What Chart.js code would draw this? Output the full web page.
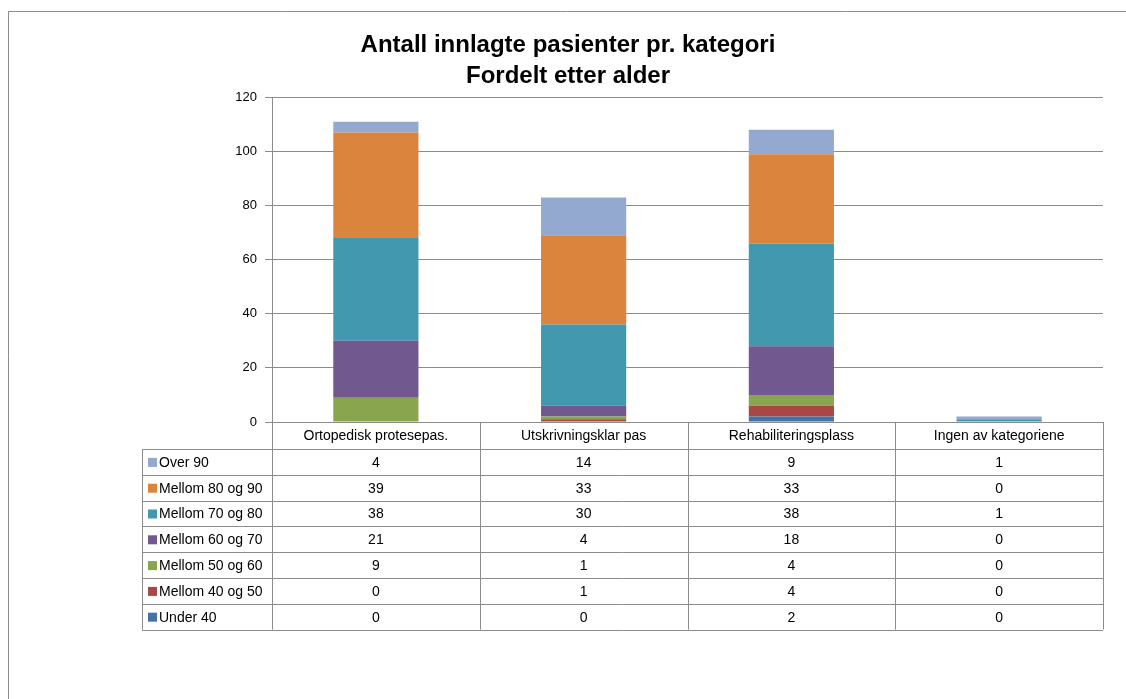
<!DOCTYPE html>
<html>
<head>
<meta charset="utf-8">
<script src="https://cdn.jsdelivr.net/npm/chart.js@4"></script>
<style>
  html, body { margin: 0; padding: 0; background: #fff; }
  #wrap { width: 1126px; height: 699px; position: relative; }
</style>
</head>
<body>
<div id="wrap"><canvas id="chart" width="1126" height="699"></canvas></div>
<script>
// ===== DATA =====
const categories = ["Ortopedisk protesepas.", "Utskrivningsklar pas", "Rehabiliteringsplass", "Ingen av kategoriene"];
const seriesNames = ["Under 40", "Mellom 40 og 50", "Mellom 50 og 60", "Mellom 60 og 70", "Mellom 70 og 80", "Mellom 80 og 90", "Over 90"];
const under40 = [0, 0, 2, 0];
const mellom40og50 = [0, 1, 4, 0];
const mellom50og60 = [9, 1, 4, 0];
const mellom60og70 = [21, 4, 18, 0];
const mellom70og80 = [38, 30, 38, 1];
const mellom80og90 = [39, 33, 33, 0];
const over90 = [4, 14, 9, 1];
const seriesColors = ["#4572A7", "#AA4643", "#89A54E", "#71588F", "#4198AF", "#DB843D", "#93A9D0"];
const yTicks = [0, 20, 40, 60, 80, 100, 120];

const seriesValues = [under40, mellom40og50, mellom50og60, mellom60og70, mellom70og80, mellom80og90, over90];
const FONT = "'Liberation Sans', Arial, sans-serif";
const LINE = "#8c8c8c";

// ===== TABEL + RAMME =====
const tablePlugin = {
  id: "dataTable",
  afterDraw(chart) {
    const ctx = chart.ctx;
    const x = chart.scales.x;
    const top = chart.chartArea.bottom;
    const headerH = 27;
    const rowH = 25.8;
    const legendLeft = 142;
    const colW = (x.right - x.left) / categories.length;
    const nRows = seriesNames.length;
    const bottom = top + headerH + nRows * rowH;

    ctx.save();
    ctx.strokeStyle = LINE;
    ctx.lineWidth = 1;

    // ytre ramme
    ctx.beginPath();
    ctx.moveTo(8.5, 699);
    ctx.lineTo(8.5, 11.5);
    ctx.lineTo(1126, 11.5);
    ctx.stroke();

    // horisontale linjer
    ctx.beginPath();
    for (let r = 0; r <= nRows; r++) {
      const yy = Math.round(top + headerH + r * rowH) + 0.5;
      ctx.moveTo(legendLeft, yy);
      ctx.lineTo(x.right, yy);
    }
    // vertikale linjer
    for (let c = 0; c <= categories.length; c++) {
      const xx = Math.round(x.left + c * colW) + 0.5;
      ctx.moveTo(xx, top);
      ctx.lineTo(xx, bottom);
    }
    ctx.moveTo(legendLeft + 0.5, top + headerH);
    ctx.lineTo(legendLeft + 0.5, bottom);
    ctx.stroke();

    // tekst
    ctx.font = "14px " + FONT;
    ctx.fillStyle = "#000";
    ctx.textBaseline = "middle";
    ctx.textAlign = "center";
    categories.forEach((c, i) => {
      ctx.fillText(c, x.getPixelForValue(i), top + headerH / 2 + 1);
    });

    for (let r = 0; r < nRows; r++) {
      const s = nRows - 1 - r; // Over 90 overst
      const yc = top + headerH + r * rowH + rowH / 2 + 1;
      ctx.fillStyle = seriesColors[s];
      ctx.fillRect(legendLeft + 6, yc - 5, 9, 9);
      ctx.fillStyle = "#000";
      ctx.textAlign = "left";
      ctx.fillText(seriesNames[s], legendLeft + 17, yc);
      ctx.textAlign = "center";
      seriesValues[s].forEach((v, i) => {
        ctx.fillText(String(v), x.getPixelForValue(i), yc);
      });
    }
    ctx.restore();
  }
};

const bgPlugin = {
  id: "bg",
  beforeDraw(chart) {
    const ctx = chart.ctx;
    ctx.save();
    ctx.fillStyle = "#fff";
    ctx.fillRect(0, 0, chart.width, chart.height);
    ctx.restore();
  }
};

// ===== CHART =====
const ctx = document.getElementById("chart").getContext("2d");
new Chart(ctx, {
  type: "bar",
  data: {
    labels: categories,
    datasets: seriesNames.map((name, i) => ({
      label: name,
      data: seriesValues[i],
      backgroundColor: seriesColors[i],
      borderWidth: 0,
      barPercentage: 0.41,
      categoryPercentage: 1
    }))
  },
  options: {
    responsive: false,
    animation: false,
    layout: { padding: { left: 33, right: 23, top: 0, bottom: 277 } },
    plugins: {
      legend: { display: false },
      tooltip: { enabled: false },
      title: {
        display: true,
        text: ["Antall innlagte pasienter pr. kategori", "Fordelt etter alder"],
        color: "#000",
        font: { family: FONT, size: 24, weight: "bold", lineHeight: 1.3 },
        padding: { top: 30, bottom: 5 }
      }
    },
    scales: {
      x: {
        stacked: true,
        display: false
      },
      y: {
        stacked: true,
        min: 0,
        max: 120,
        afterFit(scale) { scale.width = 239; },
        afterBuildTicks(scale) { scale.ticks = yTicks.map(v => ({ value: v })); },
        ticks: { color: "#000", font: { family: FONT, size: 13 }, padding: 8 },
        grid: { color: LINE, tickLength: 7 },
        border: { color: LINE }
      }
    }
  },
  plugins: [bgPlugin, tablePlugin]
});
</script>
</body>
</html>
